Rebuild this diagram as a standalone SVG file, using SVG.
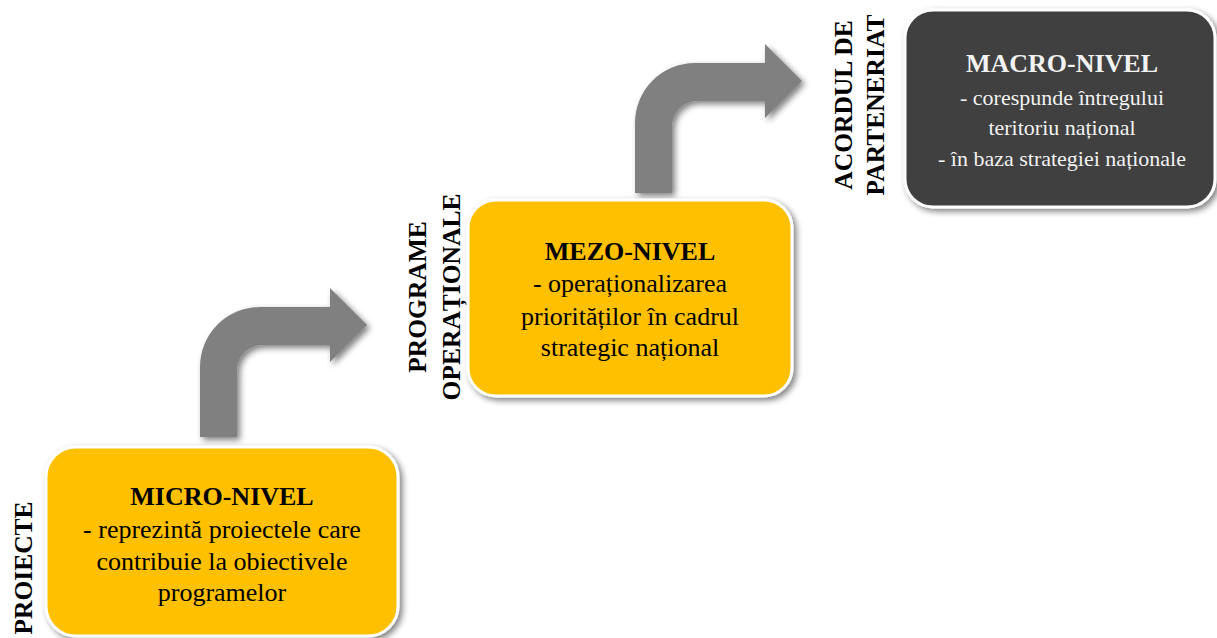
<svg xmlns="http://www.w3.org/2000/svg" width="1217" height="638" viewBox="0 0 1217 638">
  <defs>
    <filter id="sh" x="-10%" y="-10%" width="125%" height="130%">
      <feGaussianBlur in="SourceAlpha" stdDeviation="3"/>
      <feOffset dx="3" dy="3" result="b"/>
      <feComponentTransfer><feFuncA type="linear" slope="0.5"/></feComponentTransfer>
      <feMerge><feMergeNode/><feMergeNode in="SourceGraphic"/></feMerge>
    </filter>
    <path id="arrowShape" d="M200,437 L200,367 A60,60 0 0 1 260,307 L330,307 L330,288 L367,325 L330,362 L330,345 L262,345 A25,25 0 0 0 237,370 L237,437 Z"/>
  </defs>
  <style>
    .box { stroke: #ffffff; stroke-width: 3; filter: url(#sh); }
    .yel { fill: #FFC000; }
    .dark { fill: #404040; }
    .arrow { fill: #808080; filter: url(#sh); }
    .t { font-family: "Liberation Serif", "Times New Roman", serif; text-anchor: middle; fill: #000; }
    .title { font-size: 26px; font-weight: bold; }
    .body { font-size: 26px; }
    .body2 { font-size: 22px; }
    .lbl { font-family: "Liberation Serif", "Times New Roman", serif; font-size: 25.5px; font-weight: bold; text-anchor: middle; fill: #000; }
    .light { fill: #f2f2f2; }
  </style>
  <rect width="1217" height="638" fill="#ffffff"/>

  <g id="connectors">
    <use href="#arrowShape" class="arrow"/>
    <use href="#arrowShape" class="arrow" transform="translate(435,-244)"/>
  </g>

  <g id="micro">
    <rect class="box yel" x="46" y="447" width="352" height="189" rx="30"/>
    <text class="t title" x="222" y="505">MICRO-NIVEL</text>
    <text class="t body" x="222" y="538">- reprezintă proiectele care</text>
    <text class="t body" x="222" y="570">contribuie la obiectivele</text>
    <text class="t body" x="222" y="601">programelor</text>
  </g>

  <g id="mezo">
    <rect class="box yel" x="468" y="200" width="324" height="196" rx="28"/>
    <text class="t title" x="630" y="260">MEZO-NIVEL</text>
    <text class="t body" x="630" y="292">- operaționalizarea</text>
    <text class="t body" x="630" y="325">priorităților în cadrul</text>
    <text class="t body" x="630" y="356">strategic național</text>
  </g>

  <g id="macro">
    <rect class="box dark" x="905" y="10" width="310" height="197" rx="28"/>
    <text class="t title light" x="1062" y="72">MACRO-NIVEL</text>
    <text class="t body2 light" x="1062" y="105">- corespunde întregului</text>
    <text class="t body2 light" x="1062" y="135">teritoriu național</text>
    <text class="t body2 light" x="1062" y="166">- în baza strategiei naționale</text>
  </g>

  <g id="label-proiecte">
    <text class="lbl" transform="translate(32,568) rotate(-90)">PROIECTE</text>
  </g>
  <g id="label-programe">
    <text class="lbl" transform="translate(426,297) rotate(-90)">PROGRAME</text>
    <text class="lbl" transform="translate(460,297) rotate(-90)">OPERAȚIONALE</text>
  </g>
  <g id="label-acordul">
    <text class="lbl" transform="translate(852,105) rotate(-90)">ACORDUL DE</text>
    <text class="lbl" transform="translate(884,105) rotate(-90)">PARTENERIAT</text>
  </g>
</svg>
